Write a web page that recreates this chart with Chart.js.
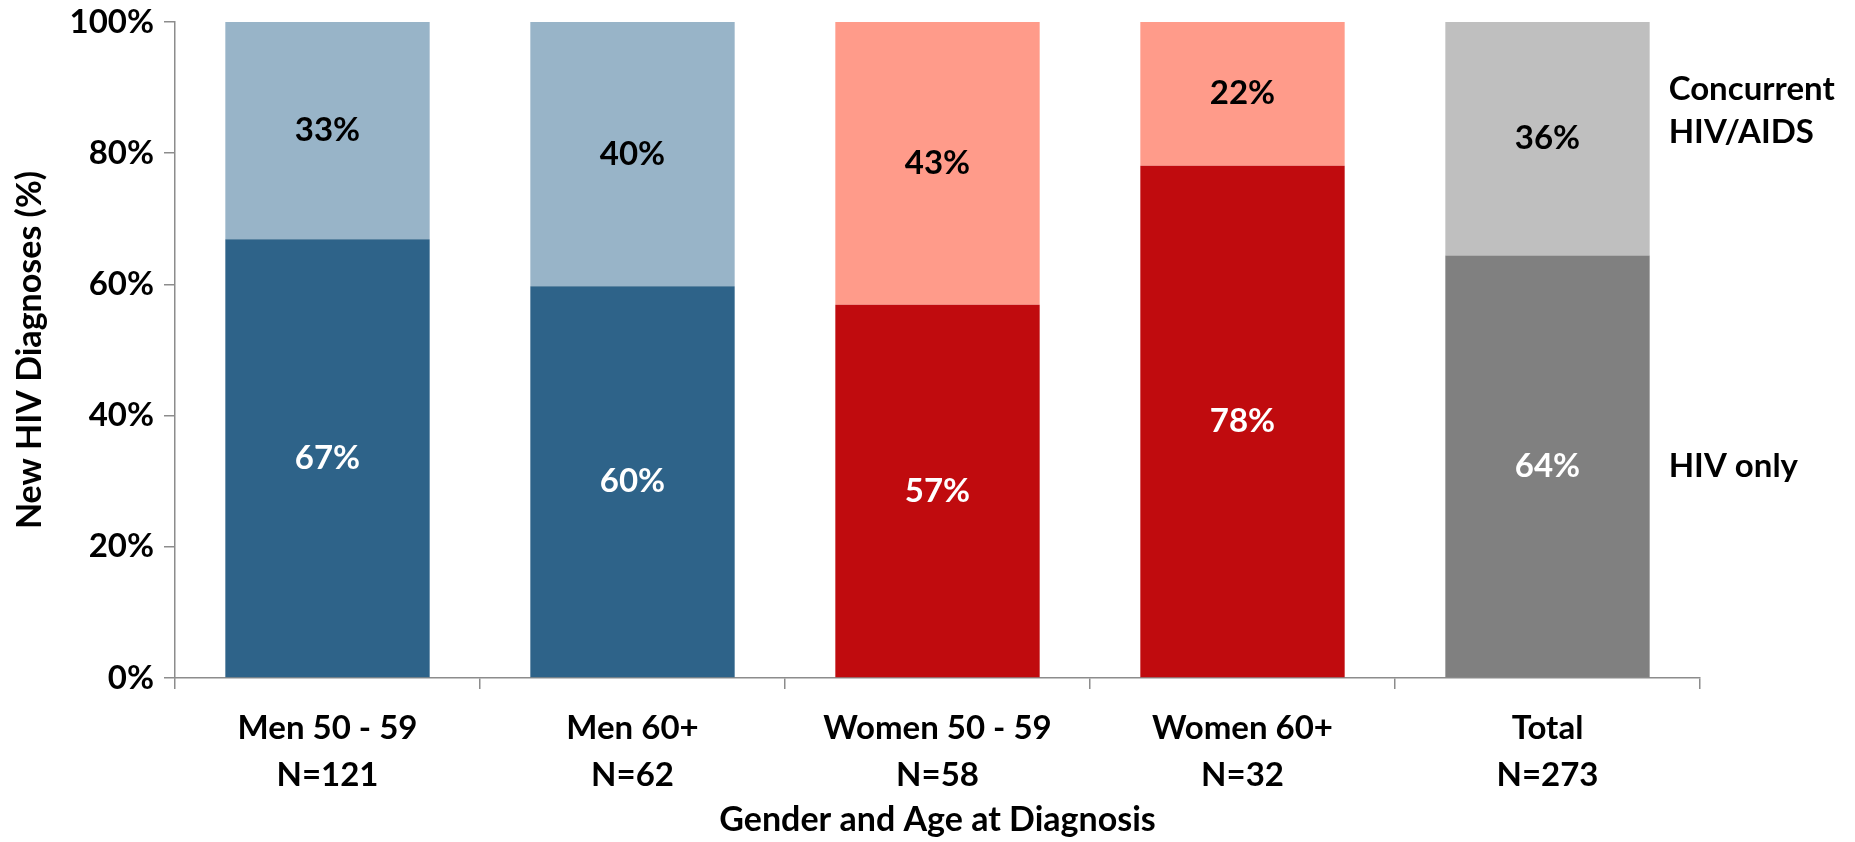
<!DOCTYPE html>
<html>
<head>
<meta charset="utf-8">
<script src="https://cdn.jsdelivr.net/npm/chart.js@4/dist/chart.umd.min.js"></script>
<style>
    body { margin: 0; background: #fff; }
    #wrap { width: 1855px; height: 842px; position: relative; }
</style>
</head>
<body>
<div id="wrap"><canvas id="diagChart"></canvas></div>
<script>
// ===========================
// Data
// ===========================

const categories = [
    ['Men 50 - 59', 'N=121'],
    ['Men 60+', 'N=62'],
    ['Women 50 - 59', 'N=58'],
    ['Women 60+', 'N=32'],
    ['Total', 'N=273']
];
const hivOnly = [66.9, 59.7, 56.9, 78.1, 64.4];
const concurrent = [33.1, 40.3, 43.1, 21.9, 35.6];
const yTicks = [0, 20, 40, 60, 80, 100];

const darkColors = ['#2E6389', '#2E6389', '#C00B0E', '#C00B0E', '#808080'];
const lightColors = ['#98B4C8', '#98B4C8', '#FF9B8A', '#FF9B8A', '#BFBFBF'];

const FONT = 'Lato, "Liberation Sans", sans-serif';

// ===========================
// Plugins
// ===========================

// value labels in the middle of each segment
const segmentLabels = {
    id: 'segmentLabels',
    afterDatasetsDraw(chart) {
        const ctx = chart.ctx;
        ctx.save();
        ctx.font = 'bold 33px ' + FONT;
        ctx.textAlign = 'center';
        ctx.textBaseline = 'middle';
        chart.data.datasets.forEach((ds, i) => {
            const meta = chart.getDatasetMeta(i);
            ctx.fillStyle = i === 0 ? '#FFFFFF' : '#000000';
            meta.data.forEach((bar, j) => {
                const y = (bar.y + bar.base) / 2;
                ctx.fillText(Math.round(ds.data[j]) + '%', bar.x, y);
            });
        });
        ctx.restore();
    }
};

// series names written next to the last bar
const sideLegend = {
    id: 'sideLegend',
    afterDraw(chart) {
        const ctx = chart.ctx;
        const yScale = chart.scales.y;
        const lastBar = chart.getDatasetMeta(0).data[categories.length - 1];
        const x = lastBar.x + lastBar.width / 2 + 19;
        ctx.save();
        ctx.font = 'bold 33px ' + FONT;
        ctx.textAlign = 'left';
        ctx.textBaseline = 'middle';
        ctx.fillStyle = '#000000';
        ctx.fillText('Concurrent', x, yScale.getPixelForValue(89.8));
        ctx.fillText('HIV/AIDS', x, yScale.getPixelForValue(83.2));
        ctx.fillText('HIV only', x, (lastBar.y + lastBar.base) / 2);
        ctx.restore();
    }
};

// ===========================
// Chart
// ===========================

function createDiagnosisChart() {
    const ctx = document.getElementById('diagChart');
    if (!ctx) return;

    new Chart(ctx, {
        type: 'bar',
        data: {
            labels: categories,
            datasets: [{
                label: 'HIV only',
                data: hivOnly,
                backgroundColor: darkColors
            }, {
                label: 'Concurrent HIV/AIDS',
                data: concurrent,
                backgroundColor: lightColors
            }]
        },
        options: {
            responsive: true,
            maintainAspectRatio: false,
            animation: false,
            layout: {
                padding: { top: 0, right: 155, left: 0, bottom: 0 }
            },
            datasets: {
                bar: {
                    categoryPercentage: 1.0,
                    barPercentage: 0.67
                }
            },
            plugins: {
                legend: { display: false },
                tooltip: { enabled: false }
            },
            scales: {
                x: {
                    stacked: true,
                    border: { color: '#8C8C8C', width: 1.5 },
                    grid: {
                        drawOnChartArea: false,
                        drawTicks: true,
                        tickLength: 11,
                        color: '#8C8C8C',
                        lineWidth: 1.5
                    },
                    ticks: {
                        color: '#000',
                        padding: 16,
                        font: { family: FONT, size: 33, weight: 'bold', lineHeight: 1.42 }
                    },
                    title: {
                        display: true,
                        text: 'Gender and Age at Diagnosis',
                        color: '#000',
                        padding: { top: 0, bottom: 2 },
                        font: { family: FONT, size: 34, weight: 'bold' }
                    },
                    afterFit(scale) { scale.height = 164; }
                },
                y: {
                    stacked: true,
                    min: 0,
                    max: 100,
                    afterBuildTicks(scale) {
                        scale.ticks = yTicks.map(v => ({ value: v }));
                    },
                    border: { color: '#8C8C8C', width: 1.5 },
                    grid: {
                        drawOnChartArea: false,
                        drawTicks: true,
                        tickLength: 11,
                        color: '#8C8C8C',
                        lineWidth: 1.5
                    },
                    ticks: {
                        color: '#000',
                        padding: 10,
                        font: { family: FONT, size: 33, weight: 'bold' },
                        callback: v => v + '%'
                    },
                    title: {
                        display: true,
                        text: 'New HIV Diagnoses (%)',
                        color: '#000',
                        padding: { top: 10, bottom: 0 },
                        font: { family: FONT, size: 34, weight: 'bold' }
                    },
                    afterFit(scale) {
                        scale.width = 175;
                        scale.paddingTop = 22;
                    }
                }
            }
        },
        plugins: [segmentLabels, sideLegend]
    });
}

document.addEventListener('DOMContentLoaded', createDiagnosisChart);
</script>
</body>
</html>
